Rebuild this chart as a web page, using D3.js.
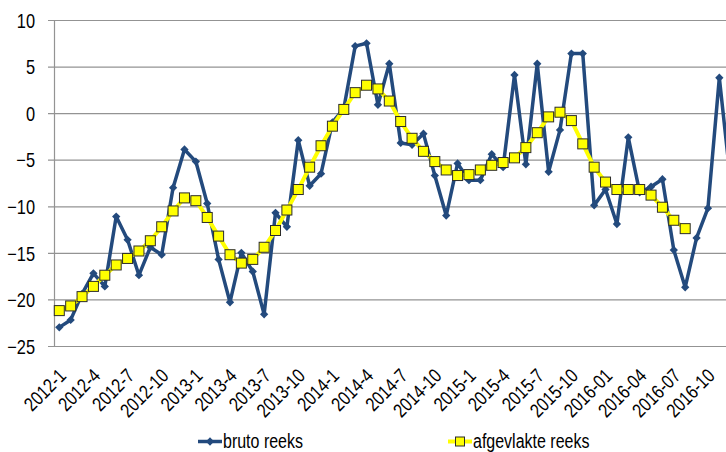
<!DOCTYPE html>
<html>
<head>
<meta charset="utf-8">
<script src="https://cdn.jsdelivr.net/npm/d3@7"></script>
<style>
  body { margin: 0; background: #fff; }
  svg text { font-family: "Liberation Sans Narrow", "Arial Narrow", "Liberation Sans", Arial, sans-serif; fill: #000; }
</style>
</head>
<body>
<div id="chart"></div>
<script>
// months on the category axis
const months = [
  "2012-1","2012-2","2012-3","2012-4","2012-5","2012-6","2012-7","2012-8","2012-9","2012-10","2012-11","2012-12",
  "2013-1","2013-2","2013-3","2013-4","2013-5","2013-6","2013-7","2013-8","2013-9","2013-10","2013-11","2013-12",
  "2014-1","2014-2","2014-3","2014-4","2014-5","2014-6","2014-7","2014-8","2014-9","2014-10","2014-11","2014-12",
  "2015-1","2015-2","2015-3","2015-4","2015-5","2015-6","2015-7","2015-8","2015-9","2015-10","2015-11","2015-12",
  "2016-01","2016-02","2016-03","2016-04","2016-05","2016-06","2016-07","2016-08","2016-09","2016-10","2016-11","2016-12"
];

// only every third month gets a label
const monthLabels = [
  "2012-1","2012-4","2012-7","2012-10","2013-1","2013-4","2013-7","2013-10",
  "2014-1","2014-4","2014-7","2014-10","2015-1","2015-4","2015-7","2015-10",
  "2016-01","2016-04","2016-07","2016-10"
];

// raw series
const bruto = [
  -23.0, -22.2, -19.4, -17.2, -18.6, -11.1, -13.6, -17.4, -14.4, -15.2, -8.0, -3.9,
  -5.2, -9.7, -15.7, -20.3, -15.0, -17.0, -21.6, -10.7, -12.2, -2.9, -7.8, -6.5,
  -1.0, 0.5, 7.2, 7.5, 0.9, 5.3, -3.2, -3.4, -2.2, -6.7, -11.0, -5.4,
  -7.2, -7.2, -4.4, -5.8, 4.1, -5.5, 5.3, -6.3, -1.8, 6.4, 6.4, -9.9,
  -8.2, -11.9, -2.6, -8.5, -7.9, -7.1, -14.7, -18.7, -13.4, -10.2, 3.8, -7.5
];

// smoothed series (stops at 2016-08)
const afgevlakt = [
  -21.2, -20.7, -19.7, -18.6, -17.4, -16.3, -15.6, -14.8, -13.7, -12.2, -10.5, -9.1,
  -9.4, -11.2, -13.2, -15.2, -16.1, -15.7, -14.4, -12.6, -10.4, -8.2, -5.8, -3.5,
  -1.4, 0.4, 2.2, 3.0, 2.6, 1.3, -0.9, -2.7, -4.1, -5.2, -6.1, -6.7,
  -6.6, -6.1, -5.6, -5.3, -4.8, -3.7, -2.1, -0.4, 0.1, -0.8, -3.3, -5.8,
  -7.4, -8.2, -8.2, -8.2, -8.8, -10.1, -11.5, -12.4, null, null, null, null
];

const yTicks = [10, 5, 0, -5, -10, -15, -20, -25];
const seriesNames = ["bruto reeks", "afgevlakte reeks"];

const width = 726;
const height = 452;
const blue = "#234a7d";
const yellow = "#ffff00";
// no narrow font here, so squeeze the regular one
const squeeze = "scale(0.82,1)";

const svg = d3.select("#chart")
  .append("svg")
    .attr("width", width)
    .attr("height", height);

// the plot runs past the right edge of the picture
const x = d3.scaleBand()
  .domain(months)
  .range([53.6, 736.4]);
const cx = m => x(m) + x.bandwidth() / 2;

const y = d3.scaleLinear()
  .domain([-25, 10])
  .range([346, 20]);

// gridlines
svg.append("g")
  .attr("transform", "translate(48,0)")
  .call(d3.axisLeft(y).tickValues(yTicks).tickSize(-(width - 48)).tickFormat(""))
  .call(g => g.select(".domain").remove())
  .call(g => g.selectAll("line").attr("stroke", "#939393").attr("stroke-width", 1.2));

// y axis
svg.append("g")
  .attr("transform", "translate(54,0)")
  .call(d3.axisLeft(y).tickValues(yTicks).tickSize(0))
  .call(g => g.select(".domain").attr("stroke", "#939393").attr("stroke-width", 1.2))
  .call(g => g.selectAll("text")
    .attr("font-size", 20)
    .attr("x", 0)
    .attr("dy", "0.36em")
    .attr("transform", "translate(-19,0) " + squeeze));

// x axis
svg.append("g")
  .attr("transform", "translate(0,346)")
  .call(d3.axisBottom(x).tickValues(monthLabels).tickSize(0))
  .call(g => g.select(".domain").attr("stroke", "#939393").attr("stroke-width", 1.2))
  .call(g => g.selectAll("text")
    .attr("font-size", 19.5)
    .attr("text-anchor", "end")
    .attr("x", 0)
    .attr("y", 0)
    .attr("dy", 0)
    .attr("transform", "translate(8,31) rotate(-45) " + squeeze));

// bruto line
const line = d3.line()
  .defined(d => d.v !== null)
  .x(d => cx(d.m))
  .y(d => y(d.v));

const brutoData = months.map((m, i) => ({ m: m, v: bruto[i] }));
const smoothData = months.map((m, i) => ({ m: m, v: afgevlakt[i] }));

svg.append("path")
  .datum(brutoData)
  .attr("fill", "none")
  .attr("stroke", blue)
  .attr("stroke-width", 3.5)
  .attr("stroke-linejoin", "round")
  .attr("d", line);

svg.append("g")
  .selectAll("path")
  .data(brutoData)
  .join("path")
    .attr("transform", d => `translate(${cx(d.m)},${y(d.v)})`)
    .attr("d", d3.symbol(d3.symbolDiamond2, 44))
    .attr("fill", blue);

// smoothed line
svg.append("path")
  .datum(smoothData)
  .attr("fill", "none")
  .attr("stroke", yellow)
  .attr("stroke-width", 4)
  .attr("stroke-linejoin", "round")
  .attr("d", line);

svg.append("g")
  .selectAll("rect")
  .data(smoothData.filter(d => d.v !== null))
  .join("rect")
    .attr("x", d => cx(d.m) - 5)
    .attr("y", d => y(d.v) - 5)
    .attr("width", 10)
    .attr("height", 10)
    .attr("fill", yellow)
    .attr("stroke", "#2b2b2b")
    .attr("stroke-width", 1);

// legend
const legend = svg.append("g").attr("class", "legend");

const leg1 = legend.append("g").attr("transform", "translate(198,441.5)");
leg1.append("line").attr("x1", 0).attr("x2", 24).attr("stroke", blue).attr("stroke-width", 3.5);
leg1.append("path").attr("transform", "translate(12,0)").attr("d", d3.symbol(d3.symbolDiamond2, 44)).attr("fill", blue);
leg1.append("text").attr("transform", "translate(25,6) " + squeeze).attr("font-size", 19.5).text(seriesNames[0]);

const leg2 = legend.append("g").attr("transform", "translate(448,441.5)");
leg2.append("line").attr("x1", 0).attr("x2", 24).attr("stroke", yellow).attr("stroke-width", 4);
leg2.append("rect").attr("x", 7.5).attr("y", -4.5).attr("width", 9).attr("height", 9)
  .attr("fill", yellow).attr("stroke", "#2b2b2b").attr("stroke-width", 1);
leg2.append("text").attr("transform", "translate(25,6) " + squeeze).attr("font-size", 19.5).text(seriesNames[1]);
</script>
</body>
</html>
